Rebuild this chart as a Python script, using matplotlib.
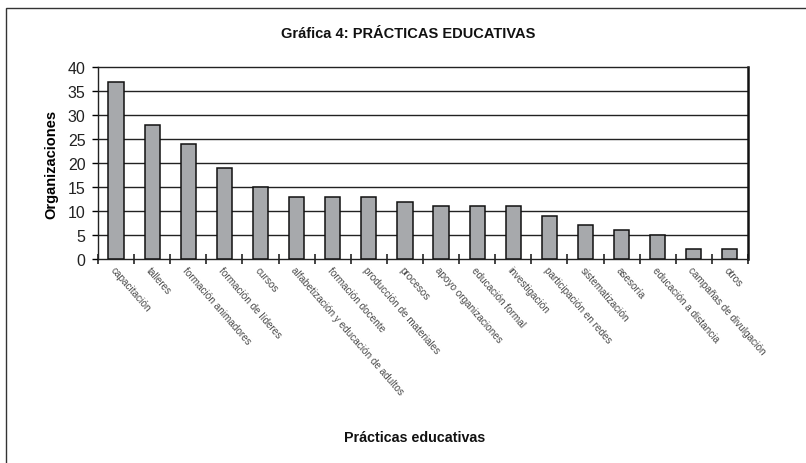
import numpy as np
import matplotlib
matplotlib.use('Agg')
import matplotlib.pyplot as plt
from matplotlib.patches import Rectangle

plt.rcParams['font.family'] = ['Liberation Sans', 'DejaVu Sans']

# data
practicas = ['capacitación', 'talleres', 'formación animadores', 'formación de líderes',
	'cursos', 'alfabetización y educación de adultos', 'formación docente',
	'producción de materiales', 'procesos', 'apoyo organizaciones', 'educación formal',
	'investigación', 'participación en redes', 'sistematización', 'asesoría',
	'educación a distancia', 'campañas de divulgación', 'otros']
organizaciones = [37, 28, 24, 19, 15, 13, 13, 13, 12, 11, 11, 11, 9, 7, 6, 5, 2, 2]
y_ticks = [0, 5, 10, 15, 20, 25, 30, 35, 40]

fig = plt.figure(figsize=(8.06, 4.64), dpi=100)
ax = fig.add_axes([0.1216, 0.4397, 0.8064, 0.4127])

x = np.arange(len(practicas))
ax.bar(x, organizaciones, width=0.42, color='#a7a9ac', edgecolor='#111111', linewidth=1.1, zorder=3)

# grid lines
for v in y_ticks[1:-1]:
	ax.axhline(v, color='#222222', linewidth=1.0, zorder=1)

ax.set_xlim(-0.5, len(practicas) - 0.5)
ax.set_ylim(0, 40)
ax.set_yticks(y_ticks)
ax.tick_params(axis='y', direction='out', length=4, width=1, labelsize=11.5, labelcolor='#222222', pad=5)

# ticks between categories, labels under each bar
ax.set_xticks(x)
ax.set_xticklabels(practicas, rotation=-49, ha='left', va='top', rotation_mode='anchor',
	fontsize=7.2, color='#4a4a4a')
ax.tick_params(axis='x', which='major', length=0, pad=4)
ax.set_xticks(np.arange(len(practicas) + 1) - 0.5, minor=True)
ax.tick_params(axis='x', which='minor', direction='inout', length=7, width=1.2, color='#222222')

for side in ['left', 'bottom', 'top']:
	ax.spines[side].set_color('#222222')
	ax.spines[side].set_linewidth(1.0)
ax.spines['right'].set_color('#111111')
ax.spines['right'].set_linewidth(1.8)

ax.set_ylabel('Organizaciones', fontsize=10.5, fontweight='bold', labelpad=7)
fig.text(0.507, 0.927, 'Gráfica 4: PRÁCTICAS EDUCATIVAS', fontsize=10.5, fontweight='bold',
	ha='center', va='center', color='#111111')
fig.text(0.514, 0.056, 'Prácticas educativas', fontsize=10.3, fontweight='bold',
	ha='center', va='center', color='#111111')

# outer frame running off the right and bottom edge
frame = Rectangle((0.0074, -0.05), 1.05, 0.9806 + 0.05, transform=fig.transFigure,
	fill=False, edgecolor='#333333', linewidth=1.0, clip_on=False)
fig.patches.append(frame)

fig.savefig('out.png', dpi=100)
